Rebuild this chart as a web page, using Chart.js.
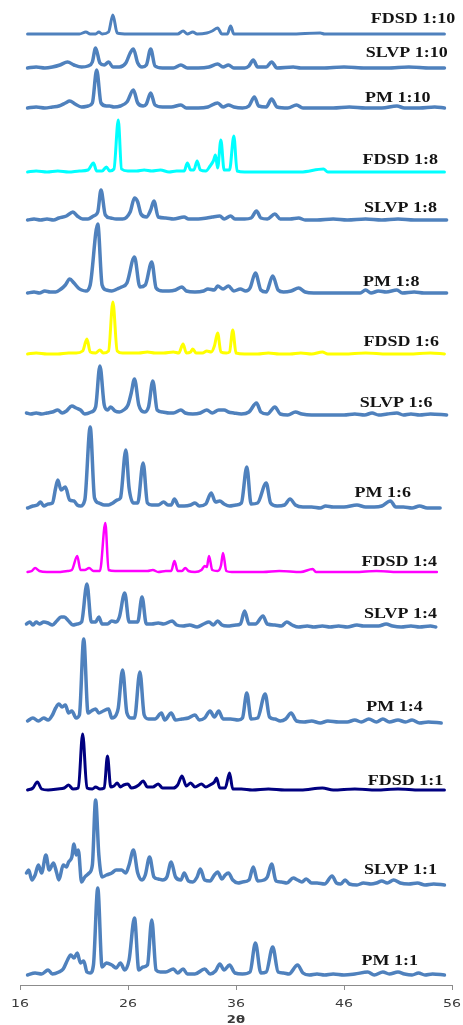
<!DOCTYPE html>
<html>
<head>
<meta charset="utf-8">
<script src="https://cdn.jsdelivr.net/npm/chart.js@4.4.1/dist/chart.umd.min.js"></script>
<style>
    html, body { margin: 0; padding: 0; background: #fff; }
    #wrap { width: 463px; height: 1025px; position: relative; }
</style>
</head>
<body>
<div id="wrap"><canvas id="chart"></canvas></div>
<script>
// sample names, top to bottom
var sampleNames = ['FDSD 1:10', 'SLVP 1:10', 'PM 1:10', 'FDSD 1:8', 'SLVP 1:8', 'PM 1:8', 'FDSD 1:6', 'SLVP 1:6',
    'PM 1:6', 'FDSD 1:4', 'SLVP 1:4', 'PM 1:4', 'FDSD 1:1', 'SLVP 1:1', 'PM 1:1'];

// baseline of each pattern in the stacked plot (intensity units)
var offsets = [951, 917, 877, 813, 765, 692, 631, 570, 477, 413, 358, 262, 195, 100, 10];

var xTicks = [16, 26, 36, 46, 56];

// [2θ, intensity above baseline]
var fdsd110 = [[16.7,0],[18,0],[20,0],[21.5,0],[22.1,2],[22.5,0],[23.0,0],[23.3,2],[23.6,0],[24.2,2],[24.6,19],[25.0,1],[26.0,0],
    [27.5,0],[29.0,0],[30.6,0],[31.1,3],[31.5,0],[32.0,2],[32.4,0],[33.3,1],[33.8,3],[34.3,6],[34.7,0],[35.2,0],[35.5,8],[35.8,0],
    [37,0],[39,0],[41,0],[43.8,1],[44.2,0],[46,0],[48,0],[50,0],[52,0],[54,0],[55.3,0]];
var slvp110 = [[16.7,0],[17.5,1],[18.3,0],[19.0,1],[19.7,3],[20.4,6],[21.0,3],[21.7,1],[22.3,2],[22.7,6],[23.0,20],[23.4,5],[23.8,3],
    [24.2,6],[24.6,1],[25.2,1],[25.8,5],[26.2,15],[26.5,19],[26.9,5],[27.3,1],[27.7,3],[28.1,19],[28.5,2],[29.2,0],[30.2,0],[30.9,3],
    [31.5,0],[32.5,0],[33.5,1],[34.3,4],[34.8,1],[35.3,3],[35.8,0],[36.8,0],[37.2,2],[37.6,8],[38.0,1],[38.8,1],[39.3,6],[39.8,0],
    [41.3,1],[42,0],[44,0],[46,1],[48,0],[50,0],[52,1],[54,0],[55.3,0]];
var pm110 = [[16.7,0],[17.5,1],[18.3,0],[19.0,1],[19.6,2],[20.2,5],[20.6,7],[21.1,4],[21.7,1],[22.3,2],[22.7,5],[23.1,38],[23.5,5],
    [24.0,2],[24.3,2],[24.7,1],[25.3,2],[25.9,6],[26.5,18],[26.9,5],[27.4,2],[27.7,4],[28.1,15],[28.5,3],[29.2,1],[30.0,1],[30.9,3],
    [31.4,0],[32.5,0],[33.4,1],[34.3,5],[34.8,1],[35.3,3],[35.8,1],[36.6,0],[37.2,2],[37.7,11],[38.1,2],[38.8,1],[39.3,9],[39.8,1],
    [40.8,0],[41.6,3],[42.2,0],[43.5,0],[45,0],[46.5,1],[48,0],[49.5,0],[50.9,2],[51.6,0],[53,0],[54.4,1],[55.3,0]];
var fdsd18 = [[16.7,0],[17.5,1],[18.5,0],[19.5,1],[20.5,0],[21.5,1],[22.3,2],[22.8,9],[23.1,1],[23.6,1],[24.0,5],[24.3,1],[24.7,3],
    [25.1,52],[25.4,3],[26.0,1],[26.8,1],[27.5,2],[28.2,1],[29.0,2],[29.8,0],[30.5,1],[31.2,1],[31.5,9],[31.8,2],[32.1,2],[32.4,11],
    [32.7,2],[33.2,1],[33.6,6],[33.9,11],[34.1,17],[34.3,4],[34.6,32],[34.9,2],[35.4,2],[35.8,36],[36.1,1],[36.8,0],[38,0],[40,0],
    [42,0],[44.1,3],[44.5,0],[46,0],[48,0],[50,0],[52,0],[54,0],[55.3,0]];
var slvp18 = [[16.7,0],[17.3,1],[17.9,0],[18.5,1],[19.1,0],[19.6,2],[20.3,4],[20.9,8],[21.3,4],[21.8,1],[22.3,1],[22.8,4],[23.2,8],
    [23.5,30],[23.9,5],[24.4,2],[24.9,1],[25.5,1],[26.2,8],[26.6,22],[26.9,18],[27.2,6],[27.7,3],[28.1,10],[28.4,19],[28.8,3],[29.5,2],
    [30.2,1],[31.2,3],[31.6,1],[32.5,1],[33.3,2],[33.8,3],[34.5,4],[34.9,1],[35.5,4],[35.9,1],[36.8,1],[37.4,2],[37.9,9],[38.3,2],
    [38.9,1],[39.6,6],[40.1,1],[41.0,1],[41.8,2],[42.4,0],[43.5,0],[45,1],[46.3,0],[48,1],[49.5,0],[51,1],[52.5,0],[54,0],[55.5,0]];
var pm18 = [[16.7,0],[17.3,1],[17.8,0],[18.3,2],[18.8,1],[19.3,1],[19.8,4],[20.2,8],[20.6,14],[21.0,10],[21.4,5],[21.7,3],[22.1,2],
    [22.5,8],[23.2,69],[23.6,8],[24.0,3],[24.5,2],[25.0,4],[25.4,6],[25.9,10],[26.6,36],[27.1,6],[27.6,8],[28.2,31],[28.6,5],[29.2,2],
    [29.8,2],[30.4,3],[31.0,6],[31.4,2],[32.2,1],[33.0,2],[33.4,4],[34.0,3],[34.3,7],[34.8,4],[35.3,7],[35.8,2],[36.4,4],[36.9,2],
    [37.3,5],[37.8,20],[38.3,3],[38.8,1],[39.4,17],[39.9,3],[40.4,1],[41.1,2],[41.8,5],[42.4,1],[43.2,0],[44.5,0],[46,0],[47.5,0],
    [48.0,3],[48.5,0],[49.2,2],[49.9,1],[50.9,3],[51.4,0],[52.5,1],[53.4,0],[54.5,0],[55.5,0]];
var fdsd16 = [[16.7,0],[17.5,1],[18.5,0],[19.5,0],[20.5,1],[21.2,1],[21.8,3],[22.2,15],[22.5,2],[23.0,1],[23.4,4],[23.7,1],[24.2,3],
    [24.6,52],[25.0,3],[25.5,1],[26.3,1],[27.0,1],[27.8,2],[28.5,1],[29.3,1],[30.2,2],[30.7,1],[31.1,10],[31.4,1],[31.8,2],[32.0,5],
    [32.3,1],[32.9,1],[33.3,3],[33.7,2],[34.0,8],[34.3,21],[34.6,2],[35.1,1],[35.4,2],[35.7,24],[36.0,1],[36.8,0],[38,0],[39,1],
    [40,0],[41,0],[42,1],[43,0],[44,2],[44.5,0],[46,0],[48,1],[50,0],[52,0],[54,1],[55.3,0]];
var slvp16 = [[16.6,2],[17.0,1],[17.5,2],[18.0,1],[18.5,2],[19.0,3],[19.5,5],[19.9,2],[20.3,4],[20.8,9],[21.2,7],[21.6,5],[22.0,1],
    [22.6,3],[23.0,8],[23.4,49],[23.8,10],[24.1,5],[24.4,8],[24.8,4],[25.2,3],[25.6,5],[26.0,10],[26.3,22],[26.6,36],[27.0,10],
    [27.5,3],[27.9,8],[28.3,34],[28.7,5],[29.2,3],[29.8,2],[30.2,2],[30.9,5],[31.3,2],[32.0,1],[32.7,2],[33.3,5],[33.8,2],[34.4,5],
    [34.9,5],[35.3,3],[35.8,2],[36.5,1],[37.2,3],[37.9,12],[38.3,3],[38.9,1],[39.6,8],[40.1,1],[40.8,0],[41.5,3],[42.1,1],[43,0],
    [44,0],[45,0],[46,0],[47,1],[47.9,0],[48.6,2],[49.2,0],[50,1],[50.9,2],[51.5,0],[52.2,1],[53,0],[54,1],[55.5,0]];
var pm16 = [[16.7,0],[17.2,2],[17.6,3],[17.9,6],[18.2,2],[18.6,4],[19.0,5],[19.3,20],[19.5,28],[19.8,18],[20.2,21],[20.6,8],[21.0,7],
    [21.3,3],[21.6,2],[22.0,8],[22.5,81],[22.9,10],[23.3,5],[23.8,3],[24.2,3],[24.6,5],[25.0,8],[25.3,10],[25.8,58],[26.1,20],
    [26.5,5],[26.9,5],[27.4,45],[27.8,5],[28.2,3],[28.8,3],[29.3,6],[29.7,3],[30.0,3],[30.3,9],[30.7,2],[31.2,2],[31.8,3],[32.2,5],
    [32.6,2],[33.2,4],[33.7,15],[34.1,6],[34.5,7],[34.9,4],[35.4,2],[36.0,3],[36.5,5],[37.0,41],[37.4,4],[38.0,5],[38.8,25],[39.2,5],
    [39.8,2],[40.5,3],[41.0,9],[41.5,3],[42.2,1],[43,1],[43.8,0],[44.3,2],[45,1],[46,1],[47.2,3],[48,1],[48.8,1],[49.5,2],[50.3,7],
    [50.8,1],[51.5,1],[52.3,0],[53,2],[53.7,0],[54.9,0]];
var fdsd14 = [[16.7,0],[17.1,1],[17.4,4],[17.8,1],[18.5,0],[19.5,0],[20.4,1],[20.8,2],[21.3,16],[21.6,2],[22.0,2],[22.4,4],[22.8,1],
    [23.4,1],[23.9,49],[24.2,2],[24.8,1],[25.6,1],[26.4,1],[27.1,1],[27.8,1],[28.3,2],[28.8,0],[29.5,1],[30.0,1],[30.3,11],[30.6,1],
    [31.0,1],[31.3,4],[31.6,1],[32.2,0],[32.8,2],[33.1,6],[33.3,5],[33.5,16],[33.8,2],[34.3,1],[34.6,6],[34.8,19],[35.1,1],[35.6,0],
    [37,0],[38.5,0],[40,1],[42,0],[43.1,3],[43.4,0],[45,0],[47,0],[49,1],[51,0],[53,0],[54.6,0]];
var slvp14 = [[16.6,3],[16.9,5],[17.2,2],[17.5,5],[17.8,3],[18.2,5],[18.6,4],[19.0,2],[19.4,6],[19.8,10],[20.1,10],[20.5,6],[20.9,2],
    [21.3,3],[21.7,5],[22.2,43],[22.6,5],[23.0,5],[23.3,10],[23.6,3],[24.1,3],[24.5,6],[24.9,5],[25.2,10],[25.7,34],[26.1,5],[26.5,5],
    [26.9,5],[27.3,30],[27.7,3],[28.2,3],[28.8,4],[29.3,3],[30.1,6],[30.5,2],[31.1,1],[31.7,2],[32.4,0],[33.0,3],[33.5,5],[33.9,2],
    [34.3,6],[34.7,2],[35.2,1],[36.0,2],[36.4,3],[36.8,16],[37.2,3],[37.8,3],[38.5,11],[38.9,3],[39.6,2],[40.2,1],[40.7,5],[41.2,2],
    [41.8,0],[42.6,1],[43.2,0],[44.0,1],[44.7,0],[45.5,1],[46.3,0],[47.2,2],[47.8,1],[48.4,1],[49.2,1],[49.9,3],[50.5,1],[51.3,0],
    [52.2,1],[53,0],[54,1],[54.5,0]];
var pm14 = [[16.7,2],[17.2,5],[17.7,2],[18.2,5],[18.6,3],[19.0,8],[19.3,15],[19.6,19],[19.9,16],[20.2,18],[20.5,10],[20.8,12],[21.2,5],
    [21.5,8],[21.9,84],[22.3,10],[22.6,12],[23.0,14],[23.3,10],[23.7,12],[24.2,14],[24.5,5],[24.9,8],[25.1,15],[25.5,53],[25.9,10],
    [26.3,5],[26.6,5],[27.1,51],[27.5,8],[27.9,4],[28.5,4],[29.1,10],[29.4,3],[30.0,10],[30.4,3],[31.0,4],[31.6,5],[32.2,8],[32.6,3],
    [33.1,5],[33.6,12],[34.0,6],[34.4,12],[34.8,4],[35.5,4],[36.2,3],[36.6,5],[37.0,30],[37.4,4],[38.0,5],[38.7,29],[39.1,6],[39.6,4],
    [40.1,2],[40.6,4],[41.1,10],[41.6,2],[42.3,1],[43.0,2],[43.8,0],[44.5,2],[45.5,1],[46.3,1],[47,3],[47.6,1],[48.3,4],[49,1],
    [49.6,4],[50.2,1],[51,3],[51.7,1],[52.3,3],[53,0],[53.8,1],[55,0]];
var fdsd11 = [[16.7,0],[17.2,2],[17.6,8],[18.0,1],[18.6,0],[19.5,1],[20.1,2],[20.5,5],[20.9,1],[21.4,2],[21.8,56],[22.2,2],[22.7,1],
    [23.0,3],[23.4,1],[23.8,2],[24.1,34],[24.4,3],[24.7,4],[25.0,7],[25.3,3],[25.6,5],[26.0,6],[26.3,2],[26.7,3],[27.0,5],[27.4,9],
    [27.8,3],[28.3,3],[28.8,6],[29.2,2],[29.7,2],[30.2,2],[30.6,5],[31.0,14],[31.4,4],[31.8,7],[32.2,3],[32.8,6],[33.2,3],[33.6,5],
    [34.0,8],[34.2,12],[34.5,2],[35.0,2],[35.4,17],[35.7,1],[36.5,1],[37.5,0],[39,1],[40.5,0],[42,0],[44,2],[45,0],[47,1],[49,0],
    [51,1],[53,0],[55.3,0]];
var slvp11 = [[16.6,12],[16.8,15],[17.1,5],[17.4,10],[17.7,20],[18.0,12],[18.4,30],[18.7,15],[19.1,22],[19.4,12],[19.6,5],[20.0,20],
    [20.3,18],[20.5,23],[20.8,28],[21.0,41],[21.2,30],[21.4,35],[21.7,3],[22.0,8],[22.4,12],[22.7,20],[23.0,85],[23.3,30],[23.6,8],
    [24.0,10],[24.5,12],[24.9,15],[25.4,15],[25.8,12],[26.1,20],[26.5,35],[26.9,12],[27.3,5],[27.6,10],[28.0,28],[28.4,8],[28.8,6],
    [29.2,5],[29.6,8],[30.0,23],[30.4,8],[30.9,5],[31.2,12],[31.6,4],[32.0,3],[32.4,8],[32.7,16],[33.1,5],[33.6,4],[34.0,10],[34.3,13],
    [34.7,6],[35.0,10],[35.3,12],[35.7,5],[36.2,2],[36.6,3],[37.2,5],[37.6,18],[38.0,4],[38.6,5],[38.9,8],[39.3,21],[39.7,4],[40.2,3],
    [40.7,2],[41.3,7],[41.7,5],[42.1,3],[42.5,6],[43.0,2],[43.5,2],[44.2,1],[44.9,9],[45.3,2],[45.7,1],[46.1,5],[46.5,1],[47.2,0],
    [47.8,2],[48.5,1],[49.0,2],[49.5,4],[50.0,2],[50.6,5],[51.2,2],[52,1],[52.8,2],[53.5,0],[54.3,1],[55.3,0]];
var pm11 = [[16.7,0],[17.4,2],[18.0,1],[18.6,5],[19.0,1],[19.6,3],[20.0,6],[20.4,15],[20.7,20],[21.0,17],[21.3,22],[21.6,12],[21.9,14],
    [22.2,3],[22.5,2],[22.8,10],[23.2,87],[23.6,8],[24.0,12],[24.5,10],[24.9,7],[25.3,12],[25.7,5],[26.1,15],[26.6,57],[27.0,5],
    [27.4,8],[27.8,10],[28.2,55],[28.6,5],[29.0,3],[29.5,3],[30.2,6],[30.6,2],[31.1,6],[31.5,1],[32.2,1],[33.1,6],[33.6,1],[34.1,4],
    [34.5,11],[34.9,5],[35.4,10],[35.9,2],[36.6,1],[37.3,3],[37.8,32],[38.3,2],[38.8,3],[39.4,28],[39.9,3],[40.4,2],[40.9,1],[41.7,10],
    [42.2,2],[42.8,0],[43.5,1],[44.2,0],[45,1],[46,0],[47,1],[48.2,3],[48.8,0],[49.6,3],[50.2,1],[51,3],[51.6,1],[52.3,0],[52.9,2],
    [53.5,0],[54.2,1],[55.3,0]];

var patterns = [fdsd110, slvp110, pm110, fdsd18, slvp18, pm18, fdsd16, slvp16, pm16, fdsd14, slvp14, pm14, fdsd11, slvp11, pm11];

// line look per pattern
var blue = '#4f81bd';
var lineColors = [blue, blue, blue, '#00ffff', blue, blue, '#ffff00', blue, blue, '#ff00ff', blue, blue, '#000080', blue, blue];
var lineWidths = [3, 3.5, 3.5, 3, 3.5, 3.5, 3, 3.5, 3.5, 2.5, 3.5, 3.5, 3, 3.5, 3.5];

// where each name sits: right end in 2θ, height above its baseline
var labelEnds = [56.3, 55.6, 54.0, 54.7, 54.6, 53.0, 54.8, 54.2, 52.2, 54.6, 54.6, 53.3, 55.2, 54.6, 52.85];
var labelLifts = [15, 15, 10, 12, 12, 11, 12, 12, 15, 10, 13, 16, 9, 15, 14];

var datasets = patterns.map(function (pts, i) {
    return {
        label: sampleNames[i],
        data: pts.map(function (p) { return { x: p[0], y: offsets[i] + p[1] }; }),
        borderColor: lineColors[i],
        borderWidth: lineWidths[i],
        pointRadius: 0,
        cubicInterpolationMode: 'monotone',
        borderCapStyle: 'round',
        borderJoinStyle: 'round',
        fill: false
    };
});

// draws text stretched sideways, centred or right-aligned on (x, y)
function wideText(ctx, text, x, y, stretch, align) {
    ctx.save();
    ctx.translate(x, y);
    ctx.scale(stretch, 1);
    ctx.textAlign = align;
    ctx.textBaseline = 'middle';
    ctx.fillText(text, 0, 0);
    ctx.restore();
}

var textLayer = {
    id: 'textLayer',
    afterDraw: function (chart) {
        var ctx = chart.ctx;
        var xs = chart.scales.x, ys = chart.scales.y;
        ctx.save();

        // sample names next to each pattern
        ctx.font = 'bold 15px "Liberation Serif", "Times New Roman", serif';
        ctx.fillStyle = '#141414';
        sampleNames.forEach(function (name, i) {
            wideText(ctx, name, xs.getPixelForValue(labelEnds[i]), ys.getPixelForValue(offsets[i] + labelLifts[i]), 1.2, 'right');
        });

        // x tick labels and axis name
        ctx.font = '10.5px "DejaVu Sans", Verdana, sans-serif';
        ctx.fillStyle = '#3a3a3a';
        xTicks.forEach(function (v) {
            wideText(ctx, String(v), xs.getPixelForValue(v), xs.top + 19, 1.35, 'center');
        });
        ctx.font = 'bold 11px "DejaVu Sans", Verdana, sans-serif';
        wideText(ctx, '2θ', (xs.left + xs.right) / 2, xs.top + 35, 1.2, 'center');

        ctx.restore();
    }
};

var ctx = document.getElementById('chart').getContext('2d');
var chart = new Chart(ctx, {
    type: 'line',
    data: { datasets: datasets },
    plugins: [textLayer],
    options: {
        animation: false,
        responsive: true,
        maintainAspectRatio: false,
        layout: { padding: { left: 20, right: 11, top: 0, bottom: 0 } },
        plugins: {
            legend: { display: false },
            tooltip: { enabled: false }
        },
        scales: {
            x: {
                type: 'linear',
                min: 16,
                max: 56,
                afterBuildTicks: function (scale) {
                    scale.ticks = xTicks.map(function (v) { return { value: v }; });
                },
                afterFit: function (scale) { scale.height = 40; },
                grid: { display: true, drawOnChartArea: false, drawTicks: true, tickLength: 5, color: '#8c8c8c' },
                border: { display: true, color: '#8c8c8c', width: 1 },
                ticks: { display: false }
            },
            y: {
                display: false,
                min: 0,
                max: 985
            }
        }
    }
});
</script>
</body>
</html>
